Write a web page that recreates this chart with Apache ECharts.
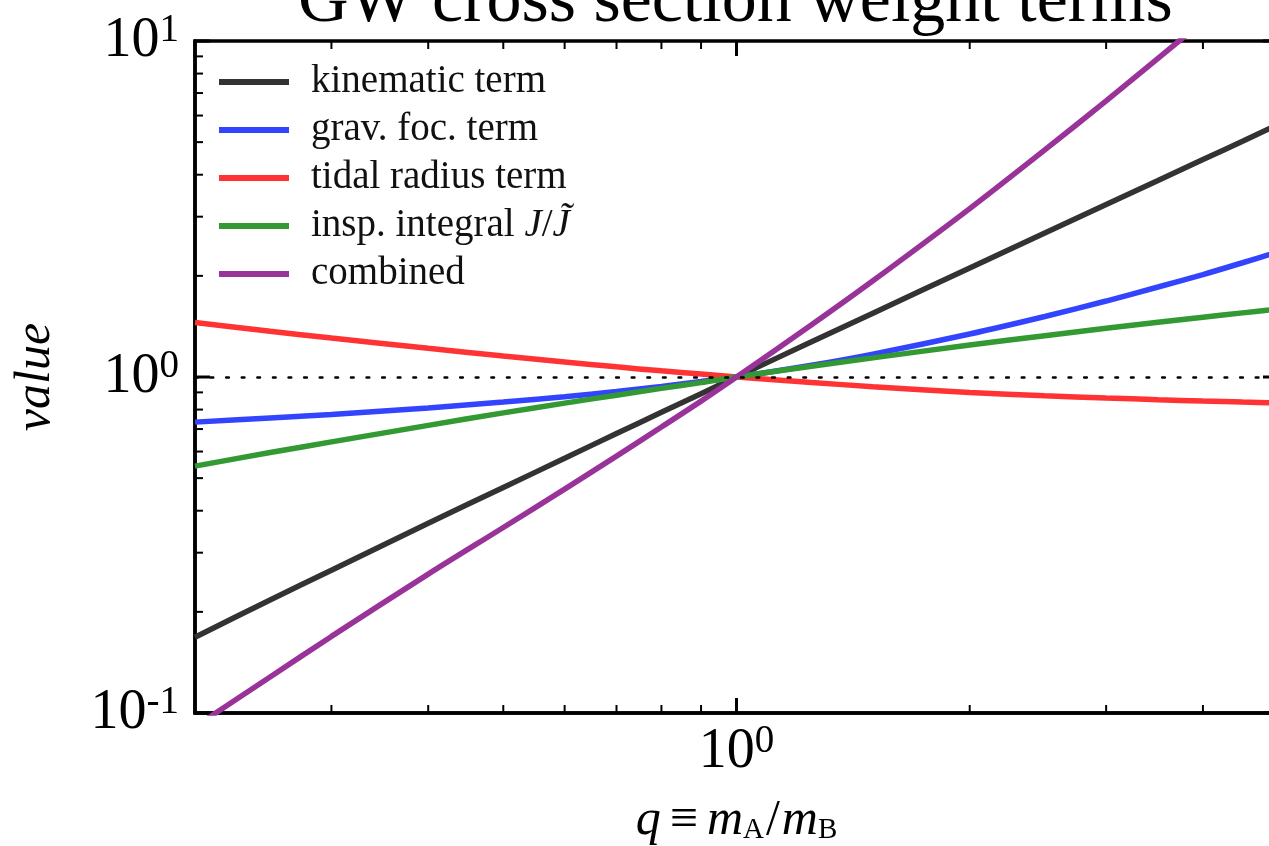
<!DOCTYPE html>
<html>
<head>
<meta charset="utf-8">
<script src="https://cdn.jsdelivr.net/npm/echarts@6/dist/echarts.min.js"></script>
<style>
  html, body { margin: 0; padding: 0; background: #ffffff; }
  #chart { width: 1269px; height: 846px; }
</style>
</head>
<body>
<div id="chart"></div>
<script>
// Mass ratio q = mA / mB sampled along the horizontal axis
const qValues = [0.2, 0.25, 0.3, 0.4, 0.5, 0.6, 0.7, 0.8, 0.9, 1, 1.25, 1.5, 2, 2.5, 3, 3.5, 4, 4.5, 5];

// Relative weight terms (all normalised to 1 at q = 1)
const kinematicTerm   = [0.168, 0.217, 0.266, 0.367, 0.469, 0.573, 0.679, 0.785, 0.892, 1, 1.273, 1.549, 2.111, 2.684, 3.262, 3.847, 4.44, 5.03, 5.64];
const gravFocTerm     = [0.734, 0.755, 0.773, 0.809, 0.842, 0.873, 0.905, 0.937, 0.969, 1, 1.084, 1.170, 1.343, 1.514, 1.683, 1.853, 2.018, 2.188, 2.355];
const tidalRadiusTerm = [1.452, 1.368, 1.306, 1.217, 1.155, 1.109, 1.072, 1.043, 1.020, 1, 0.963, 0.936, 0.899, 0.879, 0.866, 0.856, 0.848, 0.842, 0.837];
const inspIntegral    = [0.543, 0.596, 0.641, 0.718, 0.782, 0.836, 0.883, 0.925, 0.962, 1, 1.076, 1.140, 1.245, 1.327, 1.396, 1.455, 1.507, 1.552, 1.592];
const combinedTerm    = [0.091, 0.128, 0.1690, 0.2591, 0.3566, 0.4637, 0.5816, 0.7097, 0.8474, 1, 1.430, 1.933, 3.171, 4.741, 6.634, 8.884, 11.45, 14.39, 17.69];

const seriesNames  = ['kinematic term', 'grav. foc. term', 'tidal radius term', 'insp. integral J/J\u0303', 'combined'];
const seriesColors = ['#333333', '#3344ff', '#ff3333', '#339933', '#993399'];

// Axis ranges and tick positions
const xRange = [0.2, 5];
const yRange = [0.1, 10];
const xMajorTicks = [1];
const xMinorTicks = [0.2, 0.3, 0.4, 0.5, 0.6, 0.7, 0.8, 0.9, 2, 3, 4, 5];
const yMajorTicks = [0.1, 1, 10];
const yMinorTicks = [0.2, 0.3, 0.4, 0.5, 0.6, 0.7, 0.8, 0.9, 2, 3, 4, 5, 6, 7, 8, 9];
const referenceLevel = 1;

const titleText = 'GW cross section weight terms';
const yAxisTitle = 'value';

const SERIF = "'Liberation Serif', 'DejaVu Serif', serif";

function pairs(values) {
  return qValues.map((q, i) => [q, values[i]]);
}

// "10^n" labels shown only at whole decades
function powerLabel(v) {
  const e = Math.log10(v);
  const n = Math.round(e);
  if (Math.abs(e - n) > 1e-6) return '';
  return '{b|10}{s|' + (n < 0 ? '-' + (-n) : n) + '}';
}
const powerRich = {
  b: { fontFamily: SERIF, fontSize: 56, lineHeight: 60, color: '#000' },
  s: { fontFamily: SERIF, fontSize: 39, lineHeight: 30, verticalAlign: 'top', color: '#000' }
};

// Inward ticks drawn on every side of the plot frame
function tickSeries(values, dir, len, width) {
  return {
    type: 'custom',
    silent: true,
    clip: false,
    z: 6,
    data: values.map(v => (dir === 'x' ? [v, 1] : [1, v])),
    encode: { x: 0, y: 1 },
    renderItem(params, api) {
      const cs = params.coordSys;
      const p = api.coord([api.value(0), api.value(1)]);
      const style = { stroke: '#000', lineWidth: width };
      if (dir === 'x') {
        const top = cs.y, bottom = cs.y + cs.height;
        return { type: 'group', children: [
          { type: 'line', shape: { x1: p[0], y1: bottom, x2: p[0], y2: bottom - len }, style },
          { type: 'line', shape: { x1: p[0], y1: top, x2: p[0], y2: top + len }, style }
        ] };
      }
      const left = cs.x, right = cs.x + cs.width;
      return { type: 'group', children: [
        { type: 'line', shape: { x1: left, y1: p[1], x2: left + len, y2: p[1] }, style },
        { type: 'line', shape: { x1: right, y1: p[1], x2: right - len, y2: p[1] }, style }
      ] };
    }
  };
}

const dataSets = [kinematicTerm, gravFocTerm, tidalRadiusTerm, inspIntegral, combinedTerm];

const lineSeries = dataSets.map((vals, i) => ({
  name: seriesNames[i],
  type: 'line',
  data: pairs(vals),
  showSymbol: false,
  symbol: 'none',
  smooth: 0.3,
  z: 3 + i * 0.01,
  lineStyle: { color: seriesColors[i], width: 5.5 },
  itemStyle: { color: seriesColors[i] }
}));

const chart = echarts.init(document.getElementById('chart'), null, { renderer: 'canvas' });

chart.setOption({
  animation: false,
  backgroundColor: '#ffffff',
  title: {
    text: titleText,
    left: 298,
    top: -32,
    padding: 0,
    textStyle: { fontFamily: SERIF, fontSize: 70, fontWeight: 'normal', color: '#000' }
  },
  legend: {
    orient: 'vertical',
    left: 219,
    top: 62,
    padding: 0,
    itemWidth: 70,
    itemHeight: 6,
    itemGap: 8,
    icon: 'rect',
    selectedMode: false,
    data: seriesNames,
    formatter(name) {
      if (name === seriesNames[3]) return '{r|insp. integral }{i|J}{r|/}{i|J\u0303}';
      return '{r|' + name + '}';
    },
    textStyle: {
      fontFamily: SERIF, fontSize: 39, lineHeight: 40, color: '#111', padding: [0, 0, 0, 17],
      rich: {
        r: { fontFamily: SERIF, fontSize: 39, lineHeight: 40, color: '#111' },
        i: { fontFamily: SERIF, fontSize: 39, lineHeight: 40, fontStyle: 'italic', color: '#111' }
      }
    }
  },
  grid: {
    left: 195,
    top: 41,
    right: -9,
    bottom: 133,
    containLabel: false,
    outerBoundsMode: 'none',
    show: true,
    borderColor: '#000',
    borderWidth: 3.5,
    backgroundColor: 'transparent'
  },
  xAxis: {
    type: 'log',
    logBase: 10,
    min: xRange[0],
    max: xRange[1],
    name: '{i|q}{n|\u2261}{i|m}{s|A}{d|/}{i|m}{s|B}',
    nameLocation: 'middle',
    nameGap: 84,
    nameTextStyle: {
      rich: {
        i: { fontFamily: SERIF, fontSize: 50, lineHeight: 48, fontStyle: 'italic', color: '#000' },
        n: { fontFamily: SERIF, fontSize: 50, lineHeight: 48, color: '#000', padding: [0, 9, 0, 9] },
        d: { fontFamily: SERIF, fontSize: 50, lineHeight: 48, color: '#000', padding: [0, 2, 0, 2] },
        s: { fontFamily: SERIF, fontSize: 29, lineHeight: 22, verticalAlign: 'bottom', color: '#000' }
      }
    },
    axisLine: { show: true, lineStyle: { color: '#000', width: 3.5 } },
    axisTick: { show: false },
    splitLine: { show: false },
    minorTick: { show: false },
    axisLabel: { formatter: powerLabel, rich: powerRich, margin: 9, hideOverlap: false }
  },
  yAxis: {
    type: 'log',
    logBase: 10,
    min: yRange[0],
    max: yRange[1],
    name: yAxisTitle,
    nameLocation: 'middle',
    nameGap: 134,
    nameRotate: 90,
    nameTextStyle: { fontFamily: SERIF, fontSize: 50, fontStyle: 'italic', color: '#000' },
    axisLine: { show: true, lineStyle: { color: '#000', width: 3.5 } },
    axisTick: { show: false },
    splitLine: { show: false },
    minorTick: { show: false },
    axisLabel: { formatter: powerLabel, rich: powerRich, margin: 16, showMinLabel: true, showMaxLabel: true, hideOverlap: false }
  },
  series: [
    {
      type: 'line',
      name: 'reference',
      data: [],
      silent: true,
      z: 2,
      markLine: {
        silent: true,
        symbol: 'none',
        label: { show: false },
        lineStyle: { color: '#000', width: 2.6, type: [2.6, 13], cap: 'round' },
        data: [{ yAxis: referenceLevel }]
      }
    },
    ...lineSeries,
    tickSeries(xMajorTicks, 'x', 15, 3),
    tickSeries(xMinorTicks, 'x', 8, 2),
    tickSeries(yMajorTicks, 'y', 15, 3),
    tickSeries(yMinorTicks, 'y', 8, 2)
  ]
});
</script>
</body>
</html>
